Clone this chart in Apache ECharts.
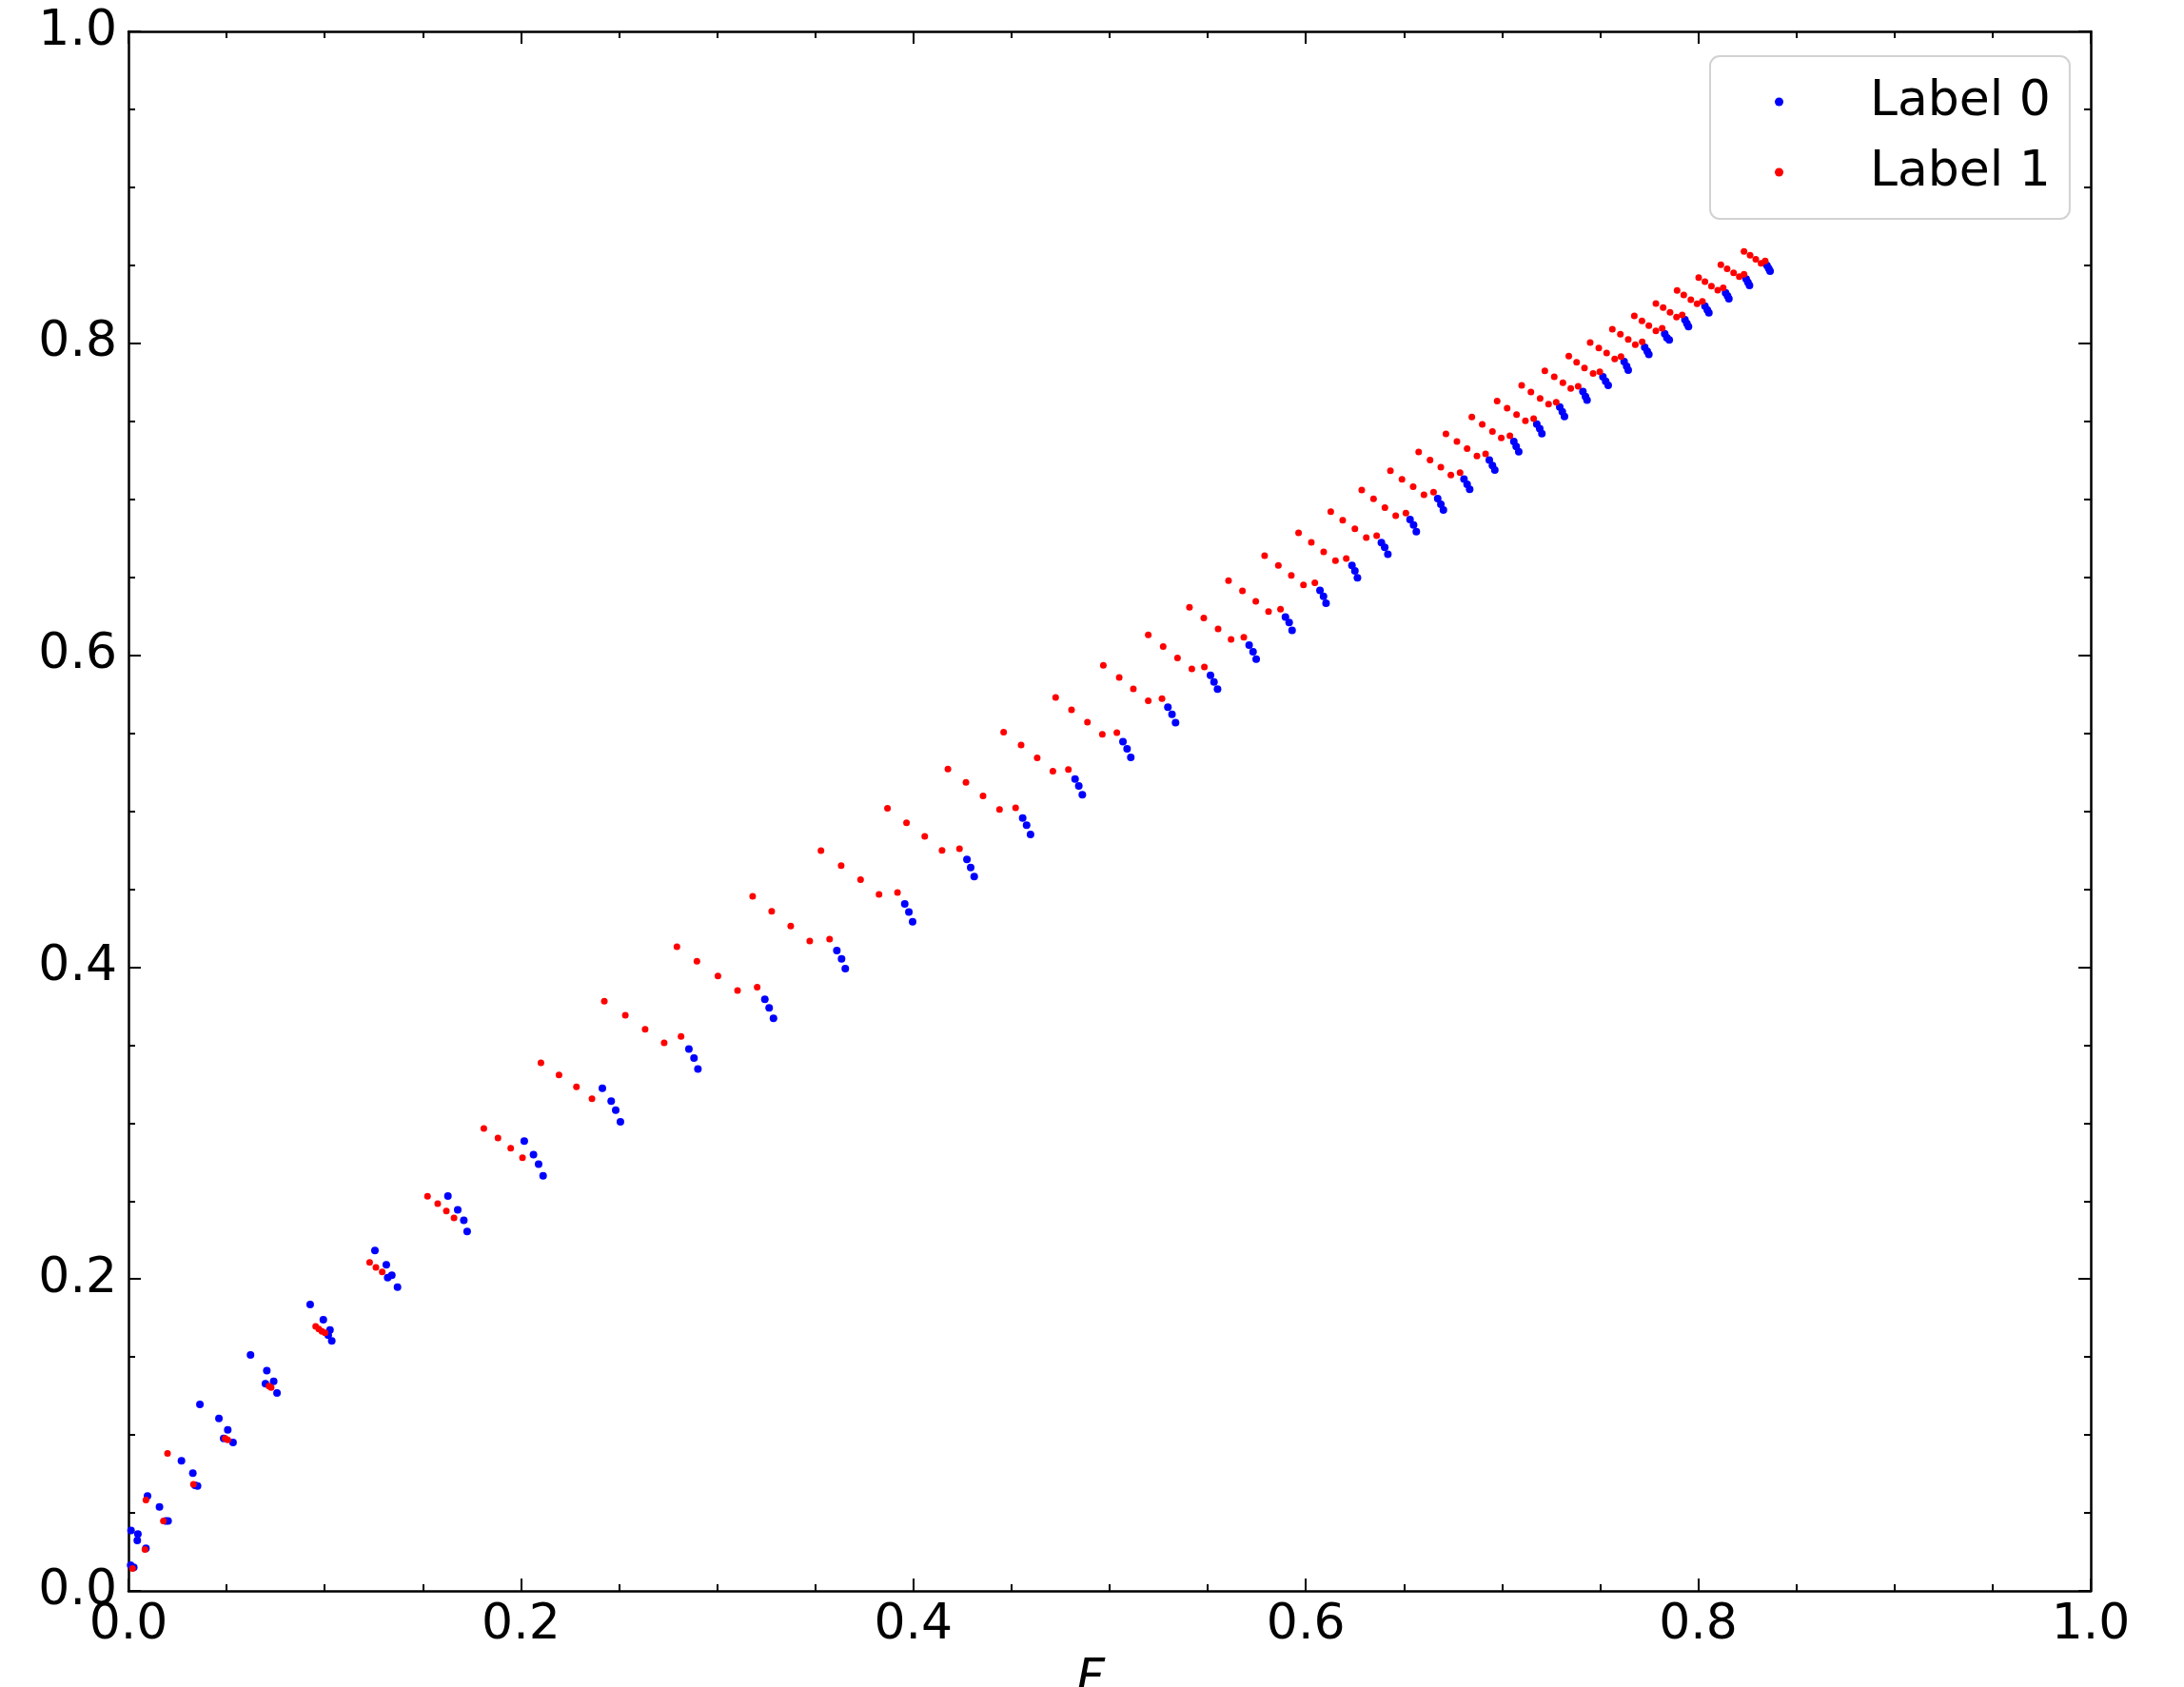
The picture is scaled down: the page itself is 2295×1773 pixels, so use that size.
<!DOCTYPE html>
<html>
<head>
<meta charset="utf-8">
<title>Label scatter</title>
<script src="https://cdn.jsdelivr.net/npm/echarts@6/dist/echarts.min.js"></script>
<style>
  html, body { margin: 0; padding: 0; background: #ffffff; overflow: hidden; }
  #chart { width: 2295px; height: 1773px; }
</style>
</head>
<body>
<div id="chart"></div>
<script>
// Series names shown in the legend
const seriesNames = ['Label 0', 'Label 1'];

// Tick labels for both axes (0.0 .. 1.0 in steps of 0.2)
const tickLabels = ['0.0', '0.2', '0.4', '0.6', '0.8', '1.0'];

// Label 0 points [x, y]
const label0Points = [
  [0.0011,0.0165],[0.0027,0.0151],[0.0013,0.0388],[0.0048,0.0364],[0.0045,0.0323],
  [0.0097,0.0608],[0.0158,0.0539],[0.0089,0.0273],[0.0189,0.0449],[0.0202,0.0449],
  [0.0270,0.0834],[0.0328,0.0755],[0.0339,0.0677],[0.0352,0.0673],
  [0.0364,0.1196],[0.0461,0.1106],[0.0506,0.1033],[0.0485,0.0978],[0.0533,0.0952],
  [0.0622,0.1513],[0.0705,0.1413],[0.0698,0.1328],[0.0740,0.1344],[0.0757,0.1269],
  [0.0926,0.1836],[0.0993,0.1739],[0.1027,0.1674],[0.1018,0.1639],[0.1036,0.1603],
  [0.1256,0.2182],[0.1314,0.2091],[0.1321,0.2009],[0.1342,0.2024],[0.1371,0.1948],
  [0.1628,0.2532],[0.1678,0.2443],[0.1709,0.2377],[0.1726,0.2304],
  [0.2017,0.2884],[0.2064,0.2798],[0.2090,0.2737],[0.2113,0.2662],
  [0.2415,0.3223],[0.2460,0.3140],[0.2483,0.3083],[0.2507,0.3008],
  [0.2856,0.3474],[0.2882,0.3417],[0.2902,0.3346],
  [0.3243,0.3793],[0.3265,0.3738],[0.3287,0.3671],
  [0.3610,0.4106],[0.3634,0.4053],[0.3653,0.3990],
  [0.3956,0.4405],[0.3977,0.4354],[0.3996,0.4291],
  [0.4273,0.4690],[0.4292,0.4639],[0.4310,0.4580],
  [0.4557,0.4956],[0.4577,0.4910],[0.4597,0.4851],
  [0.4824,0.5206],[0.4843,0.5162],[0.4861,0.5105],
  [0.5068,0.5446],[0.5089,0.5400],[0.5108,0.5345],
  [0.5297,0.5666],[0.5318,0.5621],[0.5336,0.5568],
  [0.5514,0.5871],[0.5532,0.5829],[0.5550,0.5782],
  [0.5711,0.6065],[0.5731,0.6022],[0.5747,0.5975],
  [0.5896,0.6244],[0.5915,0.6209],[0.5930,0.6160],
  [0.6072,0.6415],[0.6090,0.6378],[0.6103,0.6333],
  [0.6235,0.6575],[0.6250,0.6541],[0.6263,0.6496],
  [0.6385,0.6722],[0.6402,0.6691],[0.6418,0.6648],
  [0.6531,0.6870],[0.6549,0.6835],[0.6563,0.6793],
  [0.6672,0.7004],[0.6688,0.6968],[0.6701,0.6931],
  [0.6806,0.7130],[0.6822,0.7096],[0.6835,0.7063],
  [0.6935,0.7252],[0.6951,0.7216],[0.6963,0.7187],
  [0.7060,0.7370],[0.7072,0.7338],[0.7085,0.7305],
  [0.7177,0.7482],[0.7192,0.7452],[0.7203,0.7421],
  [0.7294,0.7592],[0.7307,0.7561],[0.7318,0.7531],
  [0.7412,0.7690],[0.7425,0.7659],[0.7433,0.7635],
  [0.7514,0.7785],[0.7528,0.7757],[0.7541,0.7730],
  [0.7622,0.7883],[0.7635,0.7852],[0.7643,0.7828],
  [0.7727,0.7974],[0.7740,0.7948],[0.7748,0.7928],
  [0.7829,0.8062],[0.7840,0.8035],[0.7852,0.8021],
  [0.7932,0.8151],[0.7942,0.8127],[0.7950,0.8107],
  [0.8034,0.8239],[0.8046,0.8214],[0.8054,0.8196],
  [0.8139,0.8324],[0.8149,0.8304],[0.8156,0.8286],
  [0.8244,0.8412],[0.8253,0.8391],[0.8261,0.8371],
  [0.8350,0.8499],[0.8359,0.8479],[0.8366,0.8462]
];

// Label 1 points [x, y]
const label1Points = [
  [0.0021,0.0144],[0.0089,0.0582],[0.0084,0.0266],[0.0178,0.0449],
  [0.0199,0.0881],[0.0331,0.0683],[0.0493,0.0978],[0.0506,0.0968],
  [0.0716,0.1314],[0.0727,0.1304],
  [0.0954,0.1696],[0.0970,0.1680],[0.0986,0.1664],[0.1002,0.1655],
  [0.1229,0.2107],[0.1261,0.2074],[0.1293,0.2046],
  [0.1524,0.2530],[0.1576,0.2483],[0.1620,0.2436],[0.1659,0.2392],
  [0.1811,0.2965],[0.1883,0.2904],[0.1948,0.2839],[0.2008,0.2778],
  [0.2102,0.3386],[0.2194,0.3309],[0.2283,0.3232],[0.2362,0.3156],
  [0.2425,0.3781],[0.2532,0.3691],[0.2633,0.3602],[0.2730,0.3514],[0.2816,0.3555],
  [0.2795,0.4131],[0.2897,0.4037],[0.3004,0.3943],[0.3104,0.3850],[0.3204,0.3872],
  [0.3181,0.4454],[0.3278,0.4358],[0.3375,0.4263],[0.3472,0.4167],[0.3573,0.4179],
  [0.3529,0.4747],[0.3632,0.4651],[0.3731,0.4560],[0.3825,0.4466],[0.3919,0.4478],
  [0.3868,0.5019],[0.3965,0.4926],[0.4058,0.4838],[0.4146,0.4749],[0.4235,0.4759],
  [0.4176,0.5270],[0.4268,0.5184],[0.4355,0.5097],[0.4439,0.5011],[0.4521,0.5021],
  [0.4460,0.5507],[0.4549,0.5424],[0.4631,0.5341],[0.4711,0.5257],[0.4790,0.5267],
  [0.4725,0.5729],[0.4806,0.5650],[0.4887,0.5570],[0.4963,0.5493],[0.5037,0.5503],
  [0.4968,0.5935],[0.5049,0.5857],[0.5121,0.5784],[0.5197,0.5707],[0.5267,0.5721],
  [0.5197,0.6130],[0.5273,0.6056],[0.5346,0.5983],[0.5419,0.5912],[0.5483,0.5924],
  [0.5407,0.6307],[0.5480,0.6238],[0.5553,0.6168],[0.5619,0.6101],[0.5684,0.6115],
  [0.5606,0.6478],[0.5677,0.6413],[0.5745,0.6345],[0.5810,0.6280],[0.5871,0.6295],
  [0.5790,0.6638],[0.5860,0.6575],[0.5926,0.6512],[0.5988,0.6451],[0.6046,0.6465],
  [0.5963,0.6785],[0.6028,0.6724],[0.6091,0.6663],[0.6151,0.6606],[0.6206,0.6620],
  [0.6127,0.6921],[0.6188,0.6866],[0.6250,0.6811],[0.6308,0.6754],[0.6361,0.6766],
  [0.6285,0.7059],[0.6345,0.7002],[0.6403,0.6947],[0.6458,0.6894],[0.6510,0.6911],
  [0.6431,0.7183],[0.6490,0.7128],[0.6547,0.7080],[0.6602,0.7029],[0.6651,0.7045],
  [0.6575,0.7303],[0.6633,0.7252],[0.6688,0.7206],[0.6739,0.7155],[0.6786,0.7171],
  [0.6714,0.7419],[0.6770,0.7370],[0.6822,0.7324],[0.6872,0.7277],[0.6916,0.7291],
  [0.6846,0.7527],[0.6899,0.7480],[0.6951,0.7435],[0.6996,0.7393],[0.7040,0.7407],
  [0.6975,0.7629],[0.7026,0.7584],[0.7074,0.7543],[0.7119,0.7503],[0.7161,0.7517],
  [0.7100,0.7730],[0.7147,0.7688],[0.7194,0.7647],[0.7237,0.7610],[0.7276,0.7622],
  [0.7218,0.7824],[0.7266,0.7785],[0.7310,0.7747],[0.7350,0.7710],[0.7388,0.7724],
  [0.7340,0.7918],[0.7380,0.7879],[0.7420,0.7842],[0.7464,0.7806],[0.7498,0.7818],
  [0.7449,0.8005],[0.7493,0.7970],[0.7533,0.7938],[0.7574,0.7899],[0.7606,0.7915],
  [0.7562,0.8090],[0.7603,0.8058],[0.7643,0.8025],[0.7679,0.7991],[0.7714,0.8009],
  [0.7674,0.8176],[0.7713,0.8143],[0.7748,0.8113],[0.7784,0.8080],[0.7816,0.8096],
  [0.7784,0.8255],[0.7821,0.8229],[0.7856,0.8198],[0.7889,0.8168],[0.7918,0.8182],
  [0.7892,0.8339],[0.7926,0.8310],[0.7962,0.8280],[0.7994,0.8253],[0.8021,0.8269],
  [0.8002,0.8422],[0.8034,0.8395],[0.8067,0.8367],[0.8099,0.8341],[0.8127,0.8355],
  [0.8115,0.8503],[0.8147,0.8477],[0.8180,0.8452],[0.8209,0.8428],[0.8233,0.8442],
  [0.8233,0.8589],[0.8264,0.8564],[0.8293,0.8538],[0.8320,0.8513],[0.8341,0.8528]
];

const FONT = 'DejaVu Sans';
const tickFormatter = v => tickLabels[Math.round(v / 0.2)];

// Shared look of a framed, inward-ticked axis
function frameAxis(extra) {
  return Object.assign({
    type: 'value',
    min: 0,
    max: 1,
    interval: 0.2,
    axisLine: { show: true, onZero: false, lineStyle: { color: '#000', width: 2.5 } },
    axisTick: { show: true, inside: true, length: 13, lineStyle: { color: '#000', width: 2 } },
    minorTick: { show: true, splitNumber: 4, length: 7, lineStyle: { color: '#000', width: 2 } },
    splitLine: { show: false },
    minorSplitLine: { show: false }
  }, extra);
}

const chart = echarts.init(document.getElementById('chart'), null, { renderer: 'canvas' });

chart.setOption({
  backgroundColor: '#ffffff',
  animation: false,
  grid: { left: 135, right: 98, top: 33, bottom: 101, containLabel: false, outerBoundsMode: 'none' },
  xAxis: [
    frameAxis({
      position: 'bottom',
      axisLabel: { fontSize: 52, fontFamily: FONT, color: '#000', margin: 10, formatter: tickFormatter },
      name: 'F',
      nameLocation: 'middle',
      nameGap: 68,
      nameTextStyle: { fontSize: 52, fontFamily: FONT, fontStyle: 'italic', color: '#000', padding: [0, 40, 0, 0] }
    }),
    frameAxis({ position: 'top', axisLabel: { show: false } })
  ],
  yAxis: [
    frameAxis({
      position: 'left',
      axisLabel: { fontSize: 52, fontFamily: FONT, color: '#000', margin: 12, formatter: tickFormatter }
    }),
    frameAxis({ position: 'right', axisLabel: { show: false } })
  ],
  legend: {
    orient: 'vertical',
    left: 1797,
    top: 59,
    padding: [13, 20, 14, 68],
    itemWidth: 95,
    itemHeight: 9,
    itemGap: 4,
    icon: 'circle',
    backgroundColor: '#ffffff',
    borderColor: '#d2d2d2',
    borderWidth: 2,
    borderRadius: 10,
    textStyle: { fontSize: 52, fontFamily: FONT, color: '#000', lineHeight: 60, padding: [0, 0, 10, 43] },
    data: seriesNames
  },
  series: [
    {
      name: seriesNames[0],
      type: 'scatter',
      xAxisIndex: 0,
      yAxisIndex: 0,
      symbol: 'circle',
      symbolSize: 8,
      itemStyle: { color: '#0000ff', opacity: 1 },
      data: label0Points
    },
    {
      name: seriesNames[1],
      type: 'scatter',
      xAxisIndex: 0,
      yAxisIndex: 0,
      symbol: 'circle',
      symbolSize: 7,
      itemStyle: { color: '#ff0000', opacity: 1 },
      data: label1Points
    }
  ]
});
</script>
</body>
</html>
